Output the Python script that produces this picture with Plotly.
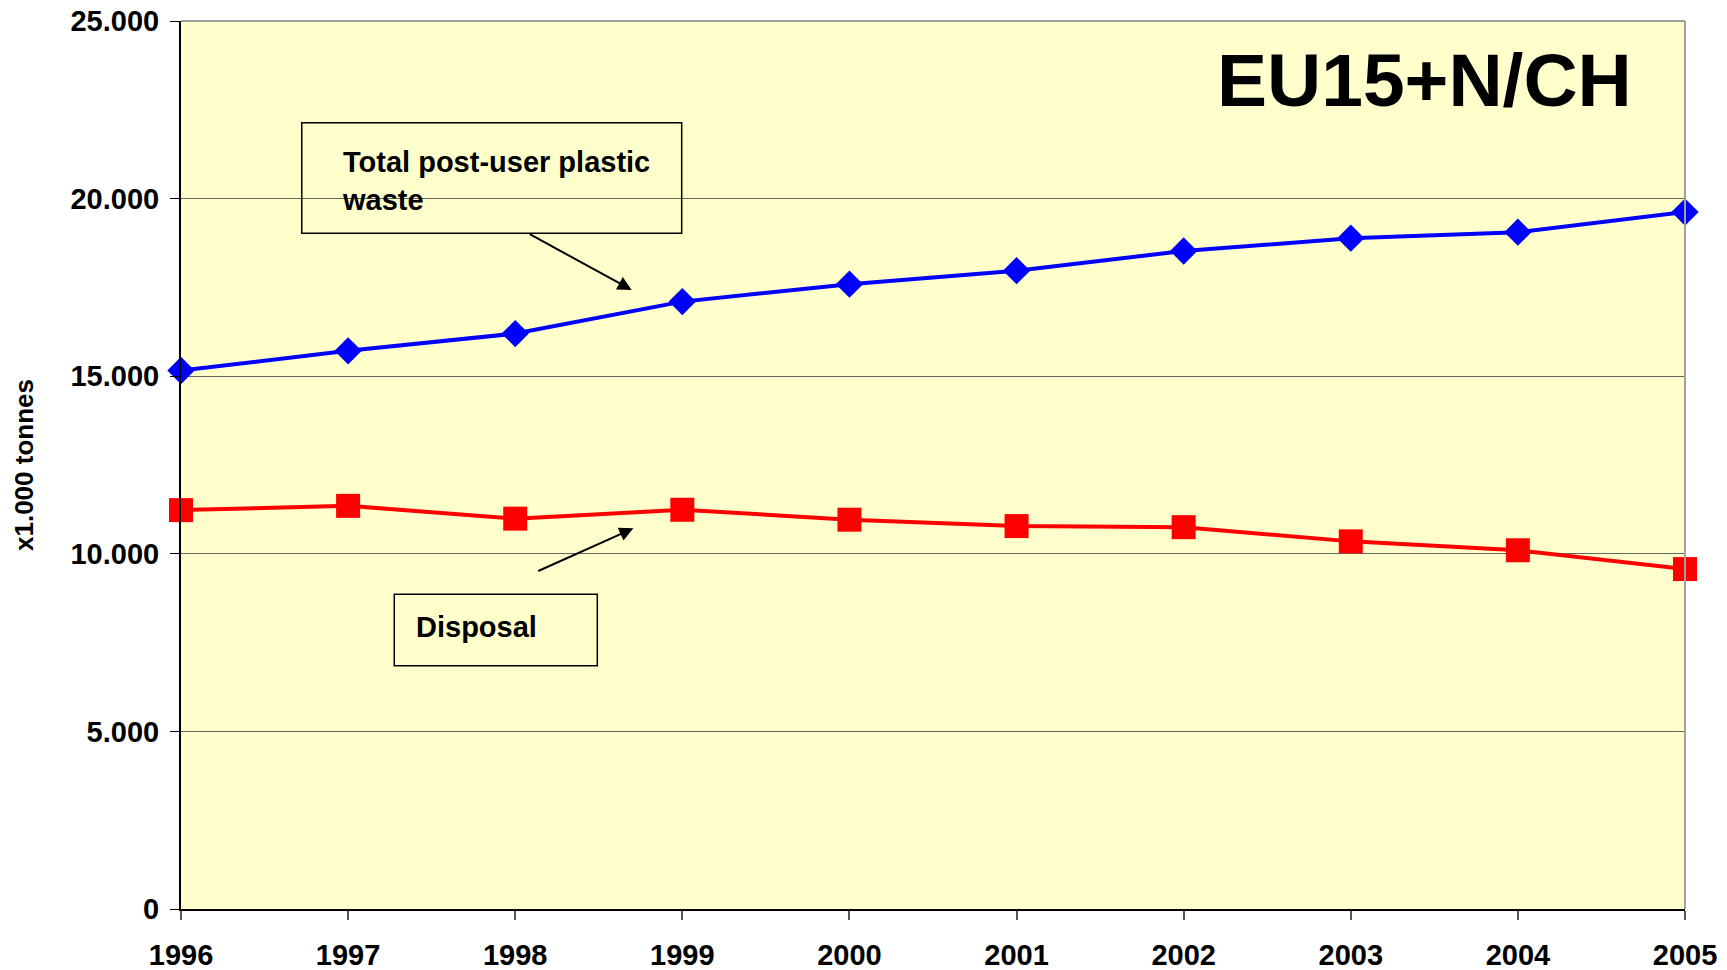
import plotly.graph_objects as go

years = [1996, 1997, 1998, 1999, 2000, 2001, 2002, 2003, 2004, 2005]
total_waste = [15160, 15715, 16200, 17100, 17590, 17970, 18525, 18885, 19055, 19620]
disposal = [11230, 11350, 10990, 11240, 10960, 10780, 10750, 10350, 10100, 9570]

y_tickvals = [0, 5000, 10000, 15000, 20000, 25000]
y_ticktext = ["0", "5.000", "10.000", "15.000", "20.000", "25.000"]
x_ticktext = [str(y) for y in years]

FONT = "Liberation Sans, Arial, sans-serif"

fig = go.Figure()
fig.add_trace(go.Scatter(
    x=years, y=total_waste, mode="lines+markers", name="Total post-user plastic waste",
    line=dict(color="#0000FF", width=4),
    marker=dict(symbol="diamond", size=21, color="#0000FF"),
    cliponaxis=False,
))
fig.add_trace(go.Scatter(
    x=years, y=disposal, mode="lines+markers", name="Disposal",
    line=dict(color="#FF0000", width=4),
    marker=dict(symbol="square", size=24, color="#FF0000"),
    cliponaxis=False,
))

# page body has an 8px default margin, so the figure is sized to fit inside the window
fig.update_layout(
    width=1719, height=962,
    margin=dict(l=173, r=42, t=13, b=61),
    paper_bgcolor="white",
    plot_bgcolor="#FFFFCC",
    showlegend=False,
    font=dict(family=FONT, color="black", size=29, weight="bold"),
)
fig.update_xaxes(
    range=[1996, 2005], tickvals=years, ticktext=x_ticktext, automargin=False,
    showgrid=False, zeroline=False,
    showline=True, linecolor="black", linewidth=2,
    ticks="outside", ticklen=9, tickcolor="#555555", tickwidth=2,
    tickfont=dict(family=FONT, size=29, color="black", weight="bold"),
    ticklabelstandoff=10, ticklabeloverflow="allow",
)
fig.update_yaxes(
    range=[0, 25000], tickvals=y_tickvals, ticktext=y_ticktext, automargin=False,
    showgrid=True, gridcolor="#666660", gridwidth=1, zeroline=False,
    showline=True, linecolor="black", linewidth=2,
    ticks="outside", ticklen=9, tickcolor="black", tickwidth=1,
    tickfont=dict(family=FONT, size=29, color="black", weight="bold"),
    ticklabelstandoff=5, ticklabeloverflow="allow",
)

# top and right borders in gray
fig.add_shape(type="line", xref="paper", yref="paper", x0=0, x1=1, y0=1, y1=1,
              line=dict(color="#A0A0A0", width=2))
fig.add_shape(type="line", xref="paper", yref="paper", x0=1, x1=1, y0=0, y1=1,
              line=dict(color="#A0A0A0", width=2))

# label boxes
fig.add_shape(type="rect", xref="paper", yref="paper", x0=0.0803, x1=0.3329, y0=0.7609, y1=0.8855,
              line=dict(color="black", width=1.5), fillcolor="rgba(0,0,0,0)")
fig.add_shape(type="rect", xref="paper", yref="paper", x0=0.1418, x1=0.2768, y0=0.274, y1=0.3544,
              line=dict(color="black", width=1.5), fillcolor="rgba(0,0,0,0)")

fig.add_annotation(text="Total post-user plastic<br>waste", xref="paper", yref="paper",
                   x=0.1055, y=0.8195, xanchor="left", yanchor="middle", align="left",
                   showarrow=False, font=dict(family=FONT, size=29, color="black", weight="bold"))
fig.add_annotation(text="Disposal", xref="paper", yref="paper",
                   x=0.155, y=0.3179, xanchor="left", yanchor="middle", align="left",
                   showarrow=False, font=dict(family=FONT, size=29, color="black", weight="bold"))

# arrows
fig.add_annotation(text="", x=1998.697, y=17427, ax=1998.078, ay=19023,
                   xref="x", yref="y", axref="x", ayref="y", showarrow=True,
                   arrowhead=2, arrowsize=1.4, arrowwidth=2, arrowcolor="black", standoff=0)
fig.add_annotation(text="", x=1998.707, y=10718, ax=1998.129, ay=9496,
                   xref="x", yref="y", axref="x", ayref="y", showarrow=True,
                   arrowhead=2, arrowsize=1.4, arrowwidth=2, arrowcolor="black", standoff=0)

# title inside plot
fig.add_annotation(text="EU15+N/CH", xref="paper", yref="paper", x=0.8269, y=0.9341,
                   xanchor="center", yanchor="middle", showarrow=False,
                   font=dict(family=FONT, size=75, color="black", weight="bold"))

# y-axis title
fig.add_annotation(text="x1.000 tonnes", xref="paper", yref="paper", x=(24 - 181) / 1504, y=(909 - 465) / 888,
                   xanchor="center", yanchor="middle", textangle=-90, showarrow=False,
                   font=dict(family=FONT, size=26, color="black", weight="bold"))

fig.write_html("out.html")
